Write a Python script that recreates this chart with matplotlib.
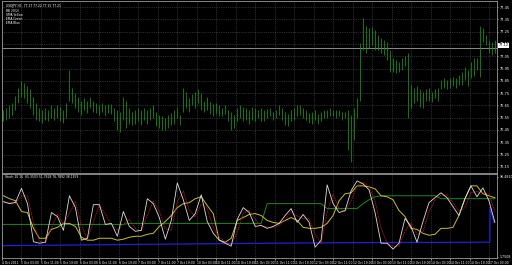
import numpy as np
import matplotlib
matplotlib.use('Agg')
import matplotlib.pyplot as plt

# price bars (high / low), one per bar
bar_high = [76.61, 76.63, 76.65, 76.67, 76.73, 76.79, 76.85, 76.83, 76.81, 76.78,
            76.72, 76.67, 76.63, 76.61, 76.63, 76.61, 76.65, 76.63, 76.65, 76.64,
            76.61, 76.67, 76.94, 76.79, 76.75, 76.72, 76.69, 76.71, 76.69, 76.72,
            76.69, 76.67, 76.65, 76.67, 76.65, 76.66, 76.66, 76.63, 76.61, 76.60,
            76.72, 76.69, 76.63, 76.60, 76.61, 76.63, 76.61, 76.63, 76.61, 76.63,
            76.65, 76.60, 76.57, 76.56, 76.55, 76.57, 76.59, 76.61, 76.64, 76.57,
            76.79, 76.76, 76.71, 76.74, 76.76, 76.78, 76.75, 76.69, 76.72, 76.68,
            76.66, 76.67, 76.65, 76.63, 76.65, 76.61, 76.60, 76.57, 76.63, 76.65,
            76.64, 76.63, 76.61, 76.64, 76.63, 76.61, 76.63, 76.61, 76.62, 76.63,
            76.60, 76.61, 76.65, 76.63, 76.60, 76.58, 76.61, 76.63, 76.65, 76.65,
            76.63, 76.61, 76.59, 76.60, 76.61, 76.58, 76.60, 76.61, 76.61, 76.63,
            76.61, 76.61, 76.61, 76.60, 76.60, 76.61, 76.57, 76.63, 76.71, 77.16,
            77.36, 77.30, 77.28, 77.29, 77.26, 77.22, 77.20, 77.18, 77.17, 77.10,
            77.04, 77.02, 77.00, 77.04, 77.05, 77.08, 76.82, 76.79, 76.81, 76.78,
            76.76, 76.78, 76.79, 76.76, 76.78, 76.79, 76.86, 76.87, 76.86, 76.87,
            76.88, 76.87, 76.90, 76.92, 76.96, 76.94, 77.00, 77.04, 77.04, 77.30,
            77.28, 77.22, 77.18, 77.17, 77.18]
bar_low = [76.52, 76.53, 76.55, 76.57, 76.61, 76.67, 76.72, 76.71, 76.67, 76.63,
           76.57, 76.53, 76.52, 76.51, 76.53, 76.52, 76.55, 76.53, 76.55, 76.52,
           76.51, 76.55, 76.69, 76.67, 76.63, 76.60, 76.57, 76.61, 76.59, 76.63,
           76.60, 76.59, 76.57, 76.60, 76.56, 76.59, 76.58, 76.52, 76.45, 76.43,
           76.53, 76.47, 76.50, 76.49, 76.50, 76.52, 76.49, 76.53, 76.50, 76.53,
           76.55, 76.48, 76.47, 76.45, 76.45, 76.47, 76.49, 76.50, 76.55, 76.49,
           76.60, 76.63, 76.60, 76.65, 76.63, 76.67, 76.61, 76.60, 76.61, 76.58,
           76.56, 76.58, 76.56, 76.56, 76.58, 76.52, 76.45, 76.47, 76.52, 76.55,
           76.52, 76.53, 76.50, 76.53, 76.52, 76.55, 76.52, 76.52, 76.55, 76.56,
           76.53, 76.55, 76.57, 76.53, 76.49, 76.48, 76.52, 76.53, 76.56, 76.57,
           76.55, 76.53, 76.51, 76.50, 76.53, 76.50, 76.52, 76.55, 76.55, 76.56,
           76.56, 76.55, 76.56, 76.53, 76.55, 76.29, 76.19, 76.37, 76.55, 76.69,
           77.10, 77.08, 77.12, 77.14, 77.10, 77.10, 77.08, 77.06, 77.02, 76.92,
           76.92, 76.91, 76.92, 76.94, 76.97, 76.55, 76.63, 76.67, 76.69, 76.64,
           76.63, 76.69, 76.69, 76.68, 76.71, 76.69, 76.78, 76.79, 76.78, 76.79,
           76.81, 76.79, 76.82, 76.82, 76.86, 76.81, 76.87, 76.89, 76.94, 76.88,
           77.17, 77.14, 77.08, 77.06, 77.08]
price_ticks = [77.45, 77.35, 77.25, 77.15, 77.05, 76.95, 76.85, 76.75,
               76.65, 76.55, 76.45, 76.35, 76.25, 76.15]
last_price = 77.12

# indicator lines, one value every second bar
osc_white = [67.1, 64.7, 66.2, 82.9, 64.7, 19.4, 17.6, 18.8, 54.1, 49.4,
             32.9, 74.1, 60.0, 21.2, 23.5, 63.5, 63.5, 40.0, 41.2, 25.9,
             55.3, 37.6, 31.8, 32.9, 70.6, 64.7, 48.2, 22.4, 44.7, 89.4,
             69.4, 44.7, 52.9, 75.3, 43.5, 29.4, 21.2, 17.6, 14.1, 45.9,
             60.0, 54.1, 37.6, 38.8, 35.3, 37.6, 41.2, 50.6, 58.8, 42.4,
             51.8, 42.4, 12.9, 21.2, 87.1, 64.7, 54.1, 56.5, 80.0, 91.8,
             88.2, 81.2, 54.1, 17.6, 17.6, 10.6, 17.6, 47.1, 37.6, 18.8,
             43.5, 65.9, 71.8, 77.6, 71.8, 61.2, 50.6, 70.6, 85.9, 72.9,
             83.5, 68.2, 42.4]
osc_red = [66, 66, 65, 74, 74, 42, 20, 18, 36, 52,
           41, 53, 67, 40, 22, 43, 63, 52, 40, 33,
           40, 46, 35, 32, 51, 68, 56, 35, 33, 67,
           80, 57, 49, 64, 59, 36, 25, 19, 16, 30,
           53, 57, 46, 38, 37, 36, 39, 46, 55, 50,
           47, 47, 28, 17, 54, 76, 59, 55, 68, 86,
           90, 85, 68, 36, 18, 14, 14, 32, 42, 28,
           31, 55, 69, 75, 75, 66, 56, 60, 78, 79,
           78, 76, 55]
osc_yellow = [74.1, 70.6, 68.2, 55.3, 54.1, 35.3, 23.5, 23.5, 34.1, 36.5,
              41.2, 41.2, 37.6, 24.7, 21.2, 21.2, 23.5, 23.5, 23.5, 21.2,
              22.4, 24.7, 25.9, 25.9, 28.2, 29.4, 37.6, 43.5, 50.6, 60.0,
              64.7, 65.9, 70.6, 72.9, 62.4, 52.9, 21.2, 18.8, 23.5, 44.7,
              48.2, 51.8, 52.9, 50.6, 44.7, 42.4, 41.2, 44.7, 48.2, 44.7,
              36.5, 35.3, 35.3, 36.5, 41.2, 50.6, 68.2, 76.5, 77.6, 85.9,
              85.9, 84.7, 82.4, 74.1, 72.9, 69.4, 56.5, 49.4, 35.3, 34.1,
              29.4, 27.1, 28.2, 35.3, 35.3, 36.5, 50.6, 70.6, 85.9, 85.9,
              76.5, 74.1, 71.8]
osc_green = [40.0] * 21 + [41.2] * 23 + [64.7] * 10 + [58.8] * 6 + \
            [64.7, 69.4, 72.9] + [74.1] * 10 + [70.6] * 10
blue_pos = [0, 54, 110, 162.3, 162.4, 163.7]
blue_val = [14.7, 16.5, 18.2, 18.8, 60.0, 42.4]

time_labels = ['4 Oct 2011', '5 Oct 03:00', '5 Oct 11:00', '5 Oct 19:00',
               '6 Oct 03:00', '6 Oct 11:00', '6 Oct 19:00', '7 Oct 03:00',
               '7 Oct 11:00', '7 Oct 19:00', '10 Oct 03:00', '10 Oct 11:00',
               '10 Oct 19:00', '11 Oct 03:00', '11 Oct 11:00', '11 Oct 19:00',
               '12 Oct 03:00', '12 Oct 11:00', '12 Oct 19:00', '13 Oct 03:00',
               '13 Oct 11:00', '13 Oct 19:00', '14 Oct 03:00', '14 Oct 11:00',
               '14 Oct 19:00', '17 Oct 03:00']

W, H = 512, 265
fig = plt.figure(figsize=(W / 100, H / 100), dpi=100, facecolor='black')
ax = fig.add_axes([2 / W, 1 - 173 / H, 495 / W, 172 / H], facecolor='black')
ax2 = fig.add_axes([2 / W, 1 - 258 / H, 495 / W, 84 / H], facecolor='black', sharex=ax)

grid_kw = dict(color='#555555', lw=0.5, linestyle=(0, (1, 1.6)))
tick_pos = -0.5 + np.arange(len(time_labels)) * 6.507

# main chart
x = np.arange(len(bar_high))
for p in price_ticks:
    ax.axhline(p, **grid_kw, zorder=0)
for t in tick_pos:
    ax.axvline(t, **grid_kw, zorder=0)
ax.vlines(x, bar_low, bar_high, color='#168a16', lw=0.6, zorder=2)
ax.axhline(last_price, color='#8c8c8c', lw=0.7, zorder=1)
ax.set_xlim(-0.4, 164.7)
ax.set_ylim(76.10, 77.50)
ax.yaxis.tick_right()
ax.set_yticks(price_ticks)
ax.set_yticklabels([f'{p:.2f}' for p in price_ticks])
ax.tick_params(axis='y', colors='white', labelsize=2.5, length=1, width=0.4, pad=0.8)
ax.tick_params(axis='x', bottom=False, labelbottom=False)
for s in ax.spines.values():
    s.set_color('#9a9a9a')
    s.set_linewidth(0.6)
ax.text(1.003, last_price + 0.02, f'{last_price:.2f}', transform=ax.get_yaxis_transform(),
        fontsize=2.5, color='black', va='center', ha='left', zorder=5,
        bbox=dict(boxstyle='square,pad=0.2', fc='white', ec='none'))

ax.text(0.008, 0.985, 'USDJPY,H1  77.17 77.22 77.15 77.21', transform=ax.transAxes,
        fontsize=2.2, color='white', va='top', ha='left')
legend_lines = ['BB 20(2)', 'SMA Yellow', 'EMA Green', 'EMA Blue']
for j, txt in enumerate(legend_lines):
    ax.text(0.008, 0.955 - j * 0.024, txt, transform=ax.transAxes,
            fontsize=2.2, color='white', va='top', ha='left')

# indicator window
ix = np.arange(len(osc_white)) * 2
for t in tick_pos:
    ax2.axvline(t, **grid_kw, zorder=0)
ax2.plot(blue_pos, blue_val, color='#2020d8', lw=0.9)
ax2.plot(ix, osc_green, color='#1e8a1e', lw=0.7)
ax2.plot(ix, osc_yellow, color='#c8c030', lw=0.7)
ax2.plot(ix, osc_red, color='#b01c1c', lw=0.6, linestyle=(0, (1.5, 0.8)))
ax2.plot(ix, osc_white, color='#dcdcdc', lw=0.6)
ax2.set_ylim(0, 100)
ax2.yaxis.tick_right()
ax2.set_yticks([96.5, 1.5])
ax2.set_yticklabels(['96.4810', '1.7508'])
ax2.tick_params(axis='y', colors='white', labelsize=2.3, length=1, width=0.4, pad=0.8)
ax2.set_xticks(tick_pos)
ax2.set_xticklabels(time_labels, ha='left')
ax2.tick_params(axis='x', colors='white', labelsize=2.2, length=1.5, width=0.4, pad=0.8)
for s in ax2.spines.values():
    s.set_color('#9a9a9a')
    s.set_linewidth(0.6)
ax2.text(0.006, 0.985, 'Stoch 10 16  65.3503 51.7628 76.7892 38.1359', transform=ax2.transAxes,
         fontsize=2.2, color='white', va='top', ha='left')

fig.savefig('out.png', dpi=100, facecolor='black')
